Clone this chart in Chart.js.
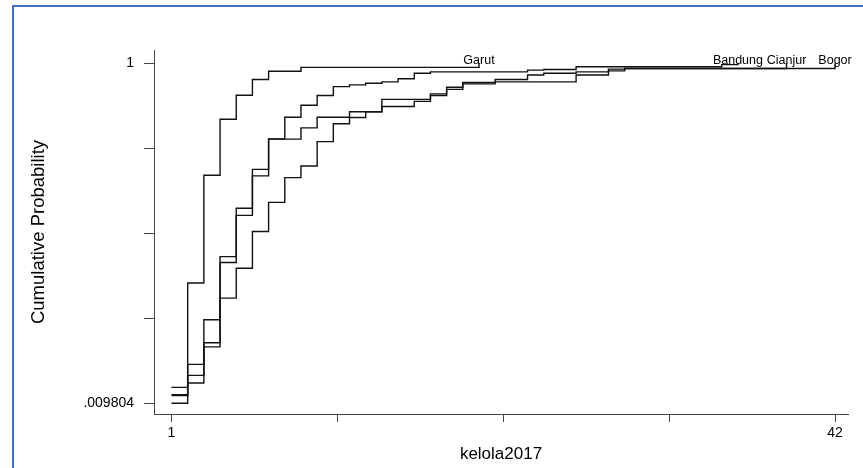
<!DOCTYPE html>
<html>
<head>
<meta charset="utf-8">
<title>kelola2017 cumulative distribution</title>
<script src="https://cdn.jsdelivr.net/npm/chart.js@4/dist/chart.umd.min.js"></script>
<style>
  html, body { margin: 0; padding: 0; background: #fff; overflow: hidden; }
  #wrap { position: relative; width: 863px; height: 468px; }
  #frame { position: absolute; left: 12px; top: 5px; width: 900px; height: 500px;
           border-top: 2px solid #4472c4; border-left: 2px solid #4472c4; pointer-events: none; }
</style>
</head>
<body>
<div id="wrap">
  <canvas id="cdfChart" width="863" height="468"></canvas>
  <div id="frame"></div>
</div>
<script>
// Cumulative probability of kelola2017 per district, one value for x = 1, 2, 3, ...
const garut = [0.035, 0.360, 0.674, 0.837, 0.907, 0.953, 0.977, 0.977, 0.988, 0.988,
               0.988, 0.988, 0.988, 0.988, 0.988, 0.988, 0.988, 0.988, 0.988, 1];
const bandung = [0.056, 0.123, 0.253, 0.437, 0.578, 0.691, 0.780, 0.843, 0.878, 0.906,
                 0.932, 0.937, 0.942, 0.946, 0.955, 0.971, 0.975, 0.975, 0.975, 0.975,
                 0.975, 0.975, 0.980, 0.982, 0.982, 0.990, 0.990, 0.990, 0.990, 0.990,
                 0.990, 0.990, 0.990, 0.990, 0.996, 1];
const cianjur = [0.032, 0.091, 0.186, 0.420, 0.557, 0.672, 0.779, 0.779, 0.812, 0.843,
                 0.843, 0.859, 0.859, 0.895, 0.895, 0.895, 0.911, 0.930, 0.944, 0.944,
                 0.953, 0.953, 0.966, 0.971, 0.971, 0.975, 0.975, 0.983, 0.985, 0.985,
                 0.985, 0.985, 0.985, 0.985, 0.985, 0.985, 0.985, 0.985, 1];
const bogor = [0.009804, 0.069, 0.174, 0.316, 0.403, 0.510, 0.595, 0.667, 0.701, 0.772,
               0.824, 0.842, 0.859, 0.874, 0.874, 0.889, 0.906, 0.924, 0.940, 0.940,
               0.946, 0.946, 0.946, 0.946, 0.946, 0.966, 0.966, 0.978, 0.985, 0.985,
               0.985, 0.985, 0.985, 0.985, 0.985, 0.985, 0.985, 0.985, 0.985, 0.985,
               0.985, 1];

const seriesNames = ['Garut', 'Bandung', 'Cianjur', 'Bogor'];
const seriesValues = [garut, bandung, cianjur, bogor];

const xTicks = [1, 11.25, 21.5, 31.75, 42];
const xTickLabels = ['1', '', '', '', '42'];
const yTicks = [0.009804, 0.257353, 0.504902, 0.752451, 1];
const yTickLabels = ['.009804', '', '', '', '1'];

const FONT = '"Liberation Sans", Arial, sans-serif';

// Put the district name just above where each curve reaches 1
const endLabels = {
    id: 'endLabels',
    afterDatasetsDraw(chart) {
        const ctx = chart.ctx;
        ctx.save();
        ctx.font = '12.5px ' + FONT;
        ctx.fillStyle = '#000';
        ctx.textAlign = 'center';
        ctx.textBaseline = 'alphabetic';
        chart.data.datasets.forEach((ds, i) => {
            const pts = chart.getDatasetMeta(i).data;
            const last = pts[pts.length - 1];
            ctx.fillText(ds.label, last.x, last.y + 1);
        });
        ctx.restore();
    }
};

const datasets = seriesNames.map((name, i) => ({
    label: name,
    data: seriesValues[i].map((v, k) => ({ x: k + 1, y: v })),
    stepped: 'before',
    borderColor: '#111',
    borderWidth: 1.4,
    pointRadius: 0,
    fill: false
}));

new Chart(document.getElementById('cdfChart').getContext('2d'), {
    type: 'line',
    data: { datasets: datasets },
    options: {
        responsive: false,
        animation: false,
        layout: { padding: { top: 50, right: 15, bottom: 0, left: 0 } },
        plugins: {
            legend: { display: false },
            tooltip: { enabled: false }
        },
        scales: {
            x: {
                type: 'linear',
                min: -0.081,
                max: 42.80,
                afterFit: scale => { scale.height = 54; },
                afterBuildTicks: scale => { scale.ticks = xTicks.map(v => ({ value: v })); },
                ticks: {
                    callback: (value, index) => xTickLabels[index],
                    autoSkip: false,
                    maxRotation: 0,
                    padding: 3,
                    color: '#000',
                    font: { family: FONT, size: 14 }
                },
                grid: { drawOnChartArea: false, tickLength: 8, color: '#444' },
                border: { color: '#444', width: 1 },
                title: {
                    display: true,
                    text: 'kelola2017',
                    color: '#000',
                    font: { family: FONT, size: 17 },
                    padding: { top: 0, bottom: 3 }
                }
            },
            y: {
                type: 'linear',
                min: -0.0214,
                max: 1.0387,
                afterFit: scale => { scale.width = 154; },
                afterBuildTicks: scale => { scale.ticks = yTicks.map(v => ({ value: v })); },
                ticks: {
                    callback: (value, index) => yTickLabels[index],
                    autoSkip: false,
                    padding: 10,
                    color: '#000',
                    font: { family: FONT, size: 14 }
                },
                grid: { drawOnChartArea: false, tickLength: 10, color: '#444' },
                border: { color: '#444', width: 1 },
                title: {
                    display: true,
                    text: 'Cumulative Probability',
                    color: '#000',
                    font: { family: FONT, size: 18.5 },
                    padding: { top: 28, bottom: 0 }
                }
            }
        }
    },
    plugins: [endLabels]
});
</script>
</body>
</html>
